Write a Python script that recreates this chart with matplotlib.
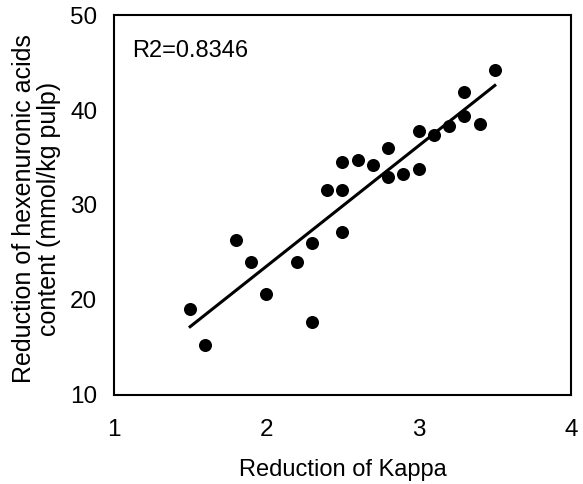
import numpy as np
import matplotlib
matplotlib.use("Agg")
import matplotlib.pyplot as plt

plt.rcParams['font.family'] = ['Liberation Sans', 'DejaVu Sans']

kappa = [1.5, 1.6, 1.8, 1.9, 2.0, 2.2, 2.3, 2.3, 2.4, 2.5, 2.5, 2.5, 2.6,
         2.7, 2.8, 2.8, 2.9, 3.0, 3.0, 3.1, 3.2, 3.3, 3.3, 3.4, 3.5]
hexa = [19.0, 15.3, 26.3, 24.0, 20.6, 24.0, 26.0, 17.7, 31.6, 34.5, 31.6, 27.2, 34.7,
        34.2, 36.0, 32.9, 33.3, 37.8, 33.8, 37.4, 38.3, 41.9, 39.4, 38.5, 44.2]
xticks = [1, 2, 3, 4]
yticks = [10, 20, 30, 40, 50]

x = np.array(kappa)
y = np.array(hexa)
slope, intercept = np.polyfit(x, y, 1)

fig = plt.figure(figsize=(5.83, 4.84), dpi=100)
ax = fig.add_axes([0.1955, 0.1839, 0.7839, 0.7851])
ax.scatter(x, y, s=88, color='black', zorder=3, linewidths=0)
xl = np.array([x.min(), x.max()])
ax.plot(xl, slope * xl + intercept, color='black', lw=2.2, zorder=2)

ax.set_xlim(1, 4)
ax.set_ylim(10, 50)
ax.set_xticks(xticks)
ax.set_yticks(yticks)
ax.tick_params(length=0, labelsize=17.5)
ax.tick_params(axis='x', pad=17)
ax.tick_params(axis='y', pad=12)
for s in ax.spines.values():
    s.set_linewidth(1.5)

ax.text(0.04, 0.905, 'R2=0.8346', transform=ax.transAxes, fontsize=17,
        va='center', ha='left')
ax.set_xlabel('Reduction of Kappa', fontsize=17)
ax.xaxis.set_label_coords(0.5, -0.168)
ax.set_ylabel('Reduction of hexenuronic acids\ncontent (mmol/kg pulp)',
              fontsize=18, linespacing=1.05)
ax.yaxis.set_label_coords(-0.117, 0.49)

fig.savefig('out.png', dpi=100)
